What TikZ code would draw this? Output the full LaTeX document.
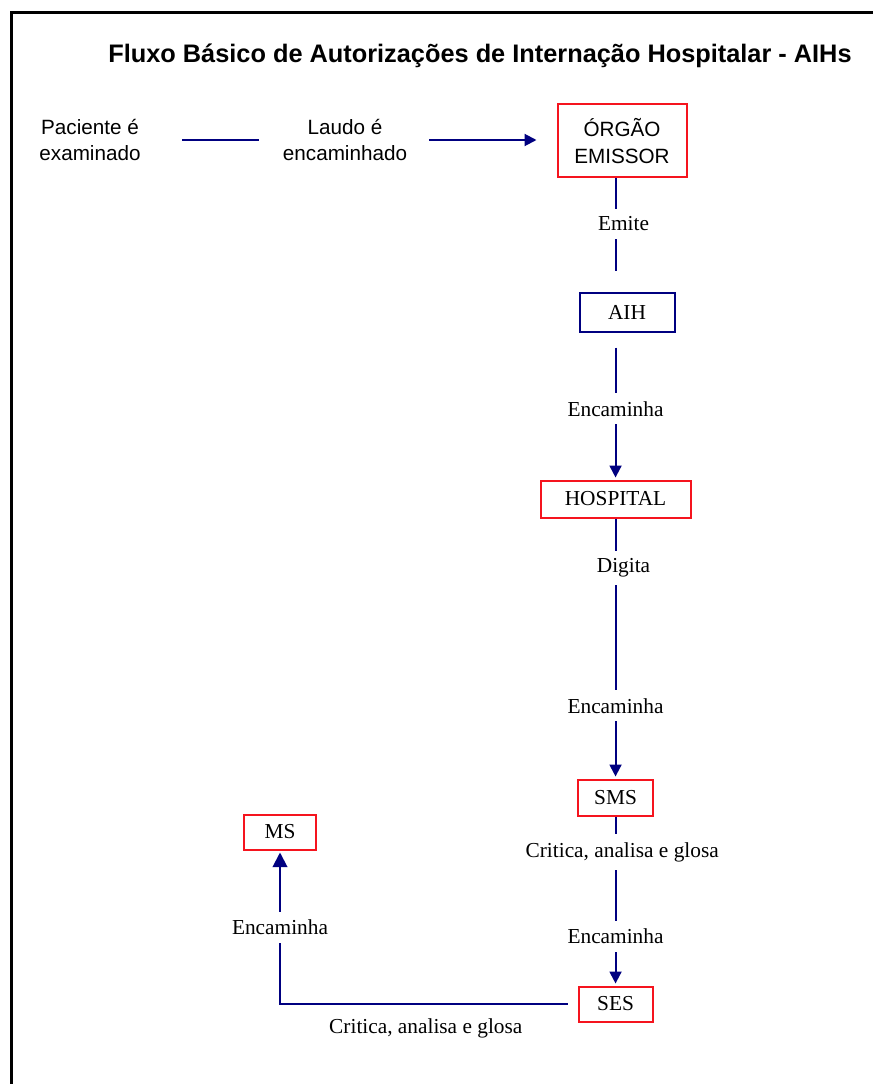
\documentclass[tikz,border=0pt]{standalone}
\usepackage{fontspec}
\setmainfont{Liberation Serif}
\newfontfamily\arial{Liberation Sans}
\usetikzlibrary{arrows.meta,positioning}
\definecolor{navyline}{RGB}{0,0,128}
\definecolor{boxred}{RGB}{245,20,30}
\tikzset{
  box/.style ={draw=boxred,line width=1.5pt,inner sep=0pt,align=center,
               font=\fontsize{16}{19}\selectfont,fill=white},
  txt/.style ={align=center,inner sep=0pt,font=\arial\fontsize{15.5}{19}\selectfont},
  lbl/.style ={fill=white,inner xsep=2pt,inner ysep=6pt,font=\fontsize{16}{19}\selectfont},
  ln/.style  ={draw=navyline,line width=1.5pt},
  ar/.style  ={ln,-{Triangle[length=9pt,width=9pt]},shorten >=1.5pt},
}

\begin{document}
\begin{tikzpicture}[x=0.75pt,y=-0.75pt]
\useasboundingbox (0,0) rectangle (873,1084);
% frame
\draw[line width=2.25pt] (873,13) -- (11,13) -- (11,1084);
% title
\node[font=\arial\bfseries\fontsize{19}{23}\selectfont] (T) at (480,56)
  {Fluxo Básico de Autorizações de Internação Hospitalar - AIHs};
% top row
\node[txt] (PAC) at (90,140) {Paciente é\\examinado};
\node[txt] (LAU) at (345,140) {Laudo é\\encaminhado};
\node[box,font=\arial\fontsize{15.5}{20}\selectfont,minimum width=96.75pt,
      minimum height=54.75pt] (ORG) at (622,141) {ÓRGÃO\\EMISSOR};
% main column
\node[box,draw=navyline,minimum width=71.25pt,minimum height=29.25pt,
      below=84.75pt of ORG,xshift=3.75pt] (AIH) {AIH};
\node[box,minimum width=112.5pt,minimum height=27.75pt,
      below=110.25pt of AIH,xshift=-8.6pt] (HOSP) {HOSPITAL};
\node[box,minimum width=56.25pt,minimum height=27pt,below=195pt of HOSP] (SMS) {SMS};
\node[box,minimum width=55.5pt,minimum height=26.25pt,below=126.75pt of SMS] (SES) {SES};
\node[box,minimum width=54pt,minimum height=26.25pt] (MS) at (280,832) {MS};
% connectors
\draw[ln,shorten <=31pt,shorten >=18pt] (PAC.east) -- (LAU.west);
\draw[ar,shorten <=16.5pt,shorten >=15pt] (LAU.east) -- (LAU.east -| ORG.west);
\draw[ln,shorten >=15.75pt] (ORG.south -| HOSP.north) --
  node[lbl,pos=0.4,xshift=6pt]{Emite} (AIH.north -| HOSP.north);
\draw[ar,shorten <=11.25pt] (AIH.south -| HOSP.north) --
  node[lbl,pos=0.52]{Encaminha} (HOSP.north);
\draw[ar] (HOSP) -- node[lbl,pos=0.19,xshift=6pt]{Digita}
  node[lbl,pos=0.72]{Encaminha} (SMS);
\draw[ar] (SMS) -- node[lbl,pos=0.21,xshift=5pt]{Critica, analisa e glosa}
  node[lbl,pos=0.71]{Encaminha} (SES);
\draw[ar,-{Triangle[length=11pt,width=11pt]},shorten <=7.5pt] (SES.west) -|
  node[lbl,pos=0.75]{Encaminha}
  node[lbl,fill=none,below=4pt,pos=0.255]{Critica, analisa e glosa} (MS.south);
\end{tikzpicture}
\end{document}
